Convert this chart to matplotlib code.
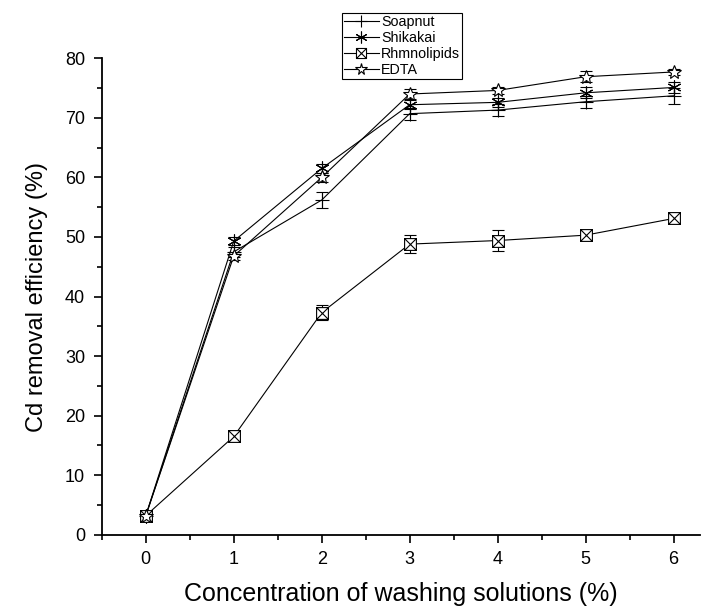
import numpy as np
import matplotlib
matplotlib.use("Agg")
import matplotlib.pyplot as plt
from matplotlib.path import Path
from matplotlib.lines import Line2D
from matplotlib.ticker import MultipleLocator

plt.rcParams['font.family'] = ['Liberation Sans', 'DejaVu Sans']

# concentration of washing solutions (%)
conc = [0, 1, 2, 3, 4, 5, 6]

soapnut = [3.2, 47.5, 56.2, 70.7, 71.3, 72.7, 73.7]
soapnut_err = [0.5, 0.8, 1.3, 1.0, 1.0, 1.0, 1.3]
shikakai = [3.2, 49.3, 61.5, 72.2, 72.6, 74.2, 75.1]
shikakai_err = [0.5, 0.7, 0.8, 0.8, 0.8, 0.9, 0.9]
rhamno = [3.2, 16.5, 37.3, 48.8, 49.4, 50.3, 53.1]
rhamno_err = [0.5, 0.5, 1.2, 1.5, 1.8, 0.8, 0.7]
edta = [3.2, 46.8, 60.0, 74.0, 74.6, 76.9, 77.7]
edta_err = [0.5, 0.7, 0.8, 0.8, 0.6, 0.9, 0.5]

# square with a cross inside
box_x = Path([(-1, -1), (1, -1), (1, 1), (-1, 1), (-1, -1),
              (-1, -1), (1, 1), (-1, 1), (1, -1)],
             [Path.MOVETO, Path.LINETO, Path.LINETO, Path.LINETO, Path.CLOSEPOLY,
              Path.MOVETO, Path.LINETO, Path.MOVETO, Path.LINETO])

fig = plt.figure(figsize=(7.12, 6.07), dpi=100)
ax = fig.add_axes([0.143, 0.119, 0.84, 0.785])

series = [
    ('Soapnut', soapnut, soapnut_err, '+', 10),
    ('Shikakai', shikakai, shikakai_err, (6, 2, 0), 10),
    ('Rhmnolipids', rhamno, rhamno_err, box_x, 8.5),
    ('EDTA', edta, edta_err, '*', 10),
]

handles = []
for name, vals, err, mk, ms in series:
    ax.errorbar(conc, vals, yerr=err, color='black', lw=0.8,
                marker=mk, ms=ms, mfc='white', mec='black', mew=0.8,
                capsize=4.3, elinewidth=0.8, capthick=0.8)
    handles.append(Line2D([], [], color='black', lw=0.8, marker=mk, ms=ms * 0.85,
                          mfc='white', mec='black', mew=0.8, label=name))

ax.set_xlim(-0.5, 6.3)
ax.set_ylim(0, 80)
ax.xaxis.set_major_locator(MultipleLocator(1))
ax.xaxis.set_minor_locator(MultipleLocator(0.5))
ax.yaxis.set_major_locator(MultipleLocator(10))
ax.yaxis.set_minor_locator(MultipleLocator(5))
ax.tick_params(which='major', direction='out', length=6, width=1.2,
               labelsize=13, pad=6)
ax.tick_params(which='minor', direction='out', length=3.5, width=1.2)
ax.spines['top'].set_visible(False)
ax.spines['right'].set_visible(False)
ax.spines['left'].set_linewidth(1.3)
ax.spines['bottom'].set_linewidth(1.3)

ax.set_xlabel('Concentration of washing solutions (%)', fontsize=18, labelpad=10)
ax.set_ylabel('Cd removal efficiency (%)', fontsize=17, labelpad=12)

leg = ax.legend(handles=handles, loc='upper left', bbox_to_anchor=(0.48, 0.979),
                bbox_transform=fig.transFigure, fontsize=10.3, frameon=True,
                fancybox=False, edgecolor='black', framealpha=1,
                handlelength=2.45, handletextpad=0.15, borderpad=0.15,
                labelspacing=0.15, borderaxespad=0)
leg.get_frame().set_linewidth(0.8)

fig.savefig('out.png', dpi=100)
